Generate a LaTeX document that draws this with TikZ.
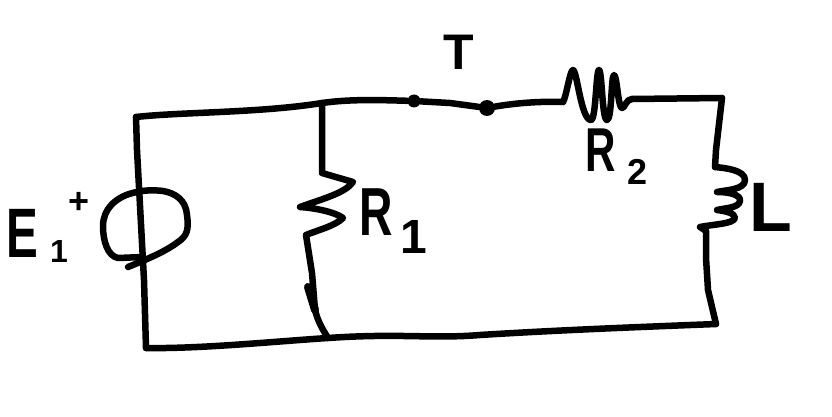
\documentclass[tikz,border=0pt]{standalone}
\usepackage{fontspec}
\setmainfont{Liberation Sans}
\tikzset{
  ink/.style={line width=6.5pt,line cap=round,line join=round,black},
  pin/.style={circle,fill=black,inner sep=0pt},
  hand/.style={inner sep=0pt,text=black}
}
\newcommand{\hw}[2]{\fontsize{#1}{#1}\selectfont\bfseries\scalebox{#2}[1]}
\begin{document}
\begin{tikzpicture}[x=1pt,y=-1pt]
\useasboundingbox (0,0) rectangle (832,417);
\fill[white] (0,0) rectangle (832,417);
% named points
\coordinate (tl) at (136,117);
\coordinate (j1) at (322,103);
\node[pin,minimum size=13pt] (s1) at (414,101) {};
\node[pin,minimum size=16pt] (s2) at (487,108) {};
\coordinate (r2a) at (563,102);
\coordinate (r2b) at (632,99);
\coordinate (tr) at (722,98);
\coordinate (l1) at (715,167);
\coordinate (l2) at (706,231);
\coordinate (br) at (716,324);
\coordinate (j2) at (328,338);
\coordinate (bl) at (146,348);
% wires
\draw[ink] (tl) -- (137,150) -- (144,280) -- (bl);
\draw[ink] (tl) .. controls (180,112) and (260,113) .. (j1) .. controls (350,99) and (380,100) .. (s1) -- (450,103) -- (s2)
  .. controls (510,104) and (535,101) .. (r2a);
\draw[ink] (r2b) -- (tr);
\draw[ink] (tr) -- (716,150) -- (l1);
\draw[ink] (l2) -- (706,258) -- (708,290) -- (br);
\draw[ink] (br) .. controls (640,327) and (560,330) .. (480,335)
  .. controls (430,339) and (400,333) .. (j2) .. controls (280,341) and (200,349) .. (bl);
% R2
\draw[ink] (r2a) .. controls (566,98) and (570,70) .. (573,70)
  .. controls (577,70) and (581,120) .. (591,120)
  .. controls (596,120) and (596,70) .. (599,70)
  .. controls (602,70) and (602,120) .. (607,120)
  .. controls (612,120) and (611,75) .. (614,75)
  .. controls (617,75) and (618,108) .. (622,108)
  .. controls (625,108) and (626,99) .. (r2b);
% R1
\draw[ink] (j1) -- (322,173) -- (353,182) .. controls (345,193) and (325,198) .. (300,207)
  .. controls (315,208) and (335,212) .. (343,218) .. controls (335,226) and (318,230) .. (306,235)
  -- (312,273) -- (315,310) .. controls (318,322) and (323,330) .. (j2);
\draw[ink,line width=8pt] (308,287) -- (315,310);
% L
\draw[ink] (l1) .. controls (725,168) and (745,170) .. (745,180)
  .. controls (745,190) and (725,190) .. (717,192)
  .. controls (730,192) and (741,195) .. (740,201)
  .. controls (739,208) and (725,208) .. (717,210)
  .. controls (725,211) and (735,213) .. (735,218)
  .. controls (733,224) and (715,224) .. (700,227) -- (l2);
% source
\draw[ink] (137,192) .. controls (145,190) and (155,190) .. (163,191)
  .. controls (175,193) and (186,200) .. (187,215)
  .. controls (189,230) and (187,236) .. (178,242)
  .. controls (165,252) and (145,260) .. (128,267);
\draw[ink] (137,192) .. controls (115,196) and (103,210) .. (103,226)
  .. controls (103,242) and (108,256) .. (118,258) -- (143,257);
% labels
\node[hand] (e) at (22,233) {\hw{70}{.68}{E}};
\node[hand] (e1) at (59,251) {\hw{32}{1}{1}};
\node[hand] (plus) at (79,203) {\hw{36}{1}{+}};
\node[hand] (t) at (459,52) {\hw{50}{1}{T}};
\node[hand] (ra) at (376,212) {\hw{68}{.68}{R}};
\node[hand] (ra1) at (414,237) {\hw{48}{1}{1}};
\node[hand] (rb) at (601,150) {\hw{62}{.68}{R}};
\node[hand] (rb2) at (638,172) {\hw{36}{1}{2}};
\node[hand] (ll) at (771,207) {\hw{70}{1}{L}};
\end{tikzpicture}
\end{document}
